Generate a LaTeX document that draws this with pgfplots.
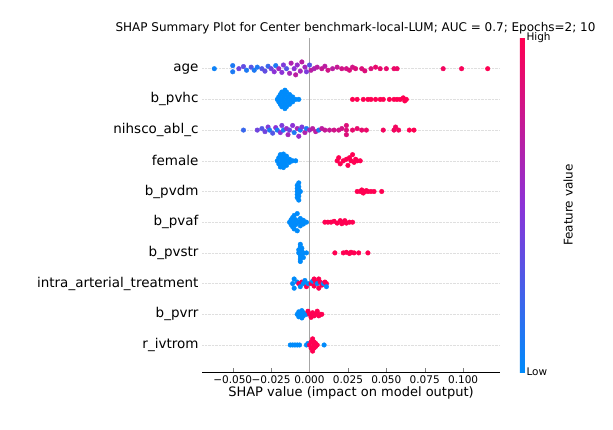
\documentclass[border=0pt]{standalone}
\usepackage{pgfplots}
\pgfplotsset{compat=1.18}
\usepackage{fontspec}
\setmainfont{DejaVu Sans}
\pgfplotstableread{
x y c
-0.062 10 0.05
-0.050 10.1 0.1
-0.050 9.9 0.1
-0.046 10 0.4
-0.043 10.07 0.35
-0.041 9.95 0.1
-0.038 10.05 0.3
-0.036 9.95 0.1
-0.034 10.05 0.1
-0.031 10 0.3
-0.029 9.92 0.35
-0.027 10.08 0.2
-0.025 10 0.4
-0.023 9.9 0.5
-0.022 10.1 0.1
-0.020 10 0.6
-0.018 9.88 0.5
-0.017 10.12 0.45
-0.015 10 0.3
-0.013 9.85 0.6
-0.012 10.18 0.65
-0.010 10 0.5
-0.009 9.8 0.7
-0.008 10.12 0.55
-0.006 9.92 0.6
-0.005 10.22 0.7
-0.003 10.05 0.6
-0.002 9.9 0.45
0.000 10.12 0.3
0.001 9.95 0.7
0.003 10 0.65
0.005 10.05 0.7
0.008 10 0.75
0.010 10.08 0.7
0.012 9.95 0.8
0.015 10 0.7
0.018 10.05 0.75
0.021 10 0.8
0.024 10 0.8
0.026 9.95 0.85
0.028 10.05 0.8
0.030 10 0.85
0.034 10 0.85
0.036 9.93 0.85
0.040 10 0.85
0.043 10.05 0.9
0.046 10 0.9
0.050 10 0.9
0.055 10 0.92
0.057 10 0.92
0.087 10 0.95
0.099 10 0.97
0.116 10 1
-0.021 9 0
-0.020 9.08 0
-0.020 8.92 0
-0.019 9.16 0
-0.019 8.84 0
-0.018 9 0
-0.018 9.24 0
-0.018 8.76 0
-0.017 9.08 0
-0.017 8.92 0
-0.016 9.16 0
-0.016 8.84 0
-0.016 9.3 0
-0.016 8.7 0
-0.015 9 0
-0.015 9.24 0
-0.015 8.76 0
-0.014 9.08 0
-0.014 8.92 0
-0.013 9.16 0
-0.013 8.84 0
-0.012 9 0
-0.011 9.08 0
-0.011 8.92 0
-0.009 9 0
-0.007 9 0
0.028 9 1
0.031 9 1
0.035 9 1
0.038 9 1
0.040 9 1
0.043 9 1
0.046 9 1
0.048 9 1
0.052 9 1
0.055 9 1
0.057 9 1
0.059 9 1
0.061 9.05 1
0.062 8.95 1
0.063 9 1
-0.043 8 0.2
-0.034 8 0.4
-0.031 8.05 0.3
-0.029 7.95 0.4
-0.027 8.1 0.45
-0.026 8 0.1
-0.024 7.9 0.3
-0.022 8.08 0.5
-0.021 8 0.1
-0.019 7.92 0.5
-0.018 8.15 0.45
-0.017 8 0.1
-0.015 8.05 0.55
-0.014 7.85 0.6
-0.013 8 0.4
-0.011 8.15 0.5
-0.010 7.92 0.1
-0.008 8.05 0.6
-0.007 7.8 0.55
-0.006 8 0.1
-0.005 8.1 0.45
-0.003 7.92 0.65
-0.002 8.05 0.1
0.000 8 0.6
0.002 8.05 0.7
0.004 7.95 0.7
0.006 8 0.1
0.008 8.05 0.7
0.010 8 0.75
0.013 8 0.75
0.016 8 0.8
0.019 8 0.8
0.021 8.05 0.8
0.024 8 0.85
0.024 8.15 0.85
0.024 7.85 0.85
0.028 8 0.9
0.031 8.05 0.9
0.034 8 0.9
0.037 8 0.92
0.048 8 0.95
0.055 8 0.95
0.056 8.1 0.95
0.058 8 0.95
0.065 8 1
0.068 8 1
-0.021 7 0
-0.020 7.1 0
-0.020 6.9 0
-0.019 7.2 0
-0.019 6.8 0
-0.018 7 0
-0.018 7.1 0
-0.018 6.9 0
-0.017 7.22 0
-0.017 6.78 0
-0.016 7 0
-0.016 7.1 0
-0.016 6.9 0
-0.015 7.15 0
-0.015 6.85 0
-0.014 7 0
-0.013 7.05 0
-0.013 6.95 0
-0.011 7 0
-0.009 7 0
0.018 7 1
0.019 7.1 1
0.020 6.9 1
0.022 7 1
0.024 7.05 1
0.025 6.85 1
0.026 7.1 1
0.027 7 1
0.028 7.2 1
0.029 6.95 1
0.030 7.05 1
0.031 7 1
0.033 7 1
-0.008 6 0
-0.008 6.1 0
-0.008 5.9 0
-0.008 6.2 0
-0.008 5.8 0
-0.007 6.05 0
-0.007 5.95 0
-0.007 6.15 0
-0.007 5.85 0
-0.007 6.28 0
-0.007 5.72 0
-0.006 6 0
0.031 6 1
0.033 6 1
0.034 6.05 1
0.035 5.95 1
0.036 6 1
0.037 6.03 1
0.038 6 1
0.040 6 1
0.042 6 1
0.047 6 1
-0.013 5 0
-0.012 5.08 0
-0.012 4.92 0
-0.011 5.15 0
-0.011 4.85 0
-0.010 5 0
-0.010 5.22 0
-0.010 4.78 0
-0.009 5.08 0
-0.009 4.92 0
-0.008 5.28 0
-0.008 4.72 0
-0.007 5 0
-0.006 5.12 0
-0.006 4.88 0
-0.005 5 0
-0.004 5.06 0
-0.004 4.94 0
-0.002 5 0
0.010 5 1
0.012 5 1
0.014 5 1
0.016 5.03 1
0.018 4.97 1
0.020 5.05 1
0.021 4.95 1
0.022 5 1
0.023 5.05 1
0.024 4.97 1
0.026 5 1
0.028 5 1
-0.007 4 0
-0.007 4.1 0
-0.006 3.9 0
-0.006 4.2 0
-0.006 3.8 0
-0.006 4.28 0
-0.006 3.72 0
-0.005 4.05 0
-0.005 3.95 0
-0.005 4.15 0
-0.004 3.85 0
-0.004 4 0
-0.002 4 0
0.0165 4 1
0.022 4 1
0.024 4.02 1
0.026 3.98 1
0.027 4.02 1
0.029 4 1
0.032 4 1
0.038 4 1
-0.011 3 0
-0.010 3.15 0
-0.010 2.85 0
-0.008 3.05 0
-0.007 3 1
-0.006 2.9 0
-0.005 3.05 1
-0.004 3 0
-0.003 3.1 0
-0.002 2.9 1
-0.001 3 0
0.001 3 1
0.002 3.08 0
0.003 2.92 1
0.004 3.05 1
0.005 3 0
0.006 3.15 1
0.006 2.85 1
0.007 3.05 1
0.008 2.95 1
0.009 3 0
0.010 3.05 1
0.011 3 1
0.011 2.9 0
0.003 3.15 1
-0.008 2 0
-0.007 2.08 0
-0.007 1.92 0
-0.006 2 0
-0.005 2.12 0
-0.005 1.88 0
-0.004 2.05 0
-0.004 1.95 0
-0.002 2 0
-0.001 2.1 1
0.000 2 1
0.001 1.9 1
0.002 2.05 1
0.003 1.95 1
0.004 2 1
0.005 2.1 1
0.006 1.95 1
0.007 2 1
0.008 2 1
-0.0125 1 0
-0.011 1 0
-0.0095 1 0
-0.008 1 0
-0.0065 1 0
-0.002 1 0
-0.001 1.05 0
0.000 1 1
0.001 1.1 1
0.001 0.9 1
0.002 1.2 1
0.002 0.8 1
0.003 1 1
0.003 1.1 1
0.003 0.9 1
0.004 1.05 1
0.004 0.95 1
0.005 1 1
0.0095 1 0
}\shap
\pgfplotsset{
  colormap={shap}{rgb255=(0,139,251) rgb255=(140,50,215) rgb255=(255,0,82)}
}
\begin{document}
\begin{tikzpicture}[x=1pt,y=1pt]
\useasboundingbox (0,0) rectangle (613,429);
\fill[white] (0,0) rectangle (613,429);
\begin{axis}[at={(202pt,57pt)}, anchor=south west,
  scale only axis, width=298pt, height=334pt,
  xmin=-0.070, xmax=0.124, ymin=0.12, ymax=11,
  axis x line*=bottom, axis y line*=left,
  y axis line style={draw=none},
  ytick={1,...,10},
  yticklabels={r\_ivtrom,b\_pvrr,intra\_arterial\_treatment,b\_pvstr,b\_pvaf,b\_pvdm,female,nihsco\_abl\_c,b\_pvhc,age},
  ytick style={draw=none},
  yticklabel style={font=\fontsize{13.5}{15}\selectfont},
  ymajorgrids, grid style={densely dotted, gray!25},
  xtick={-0.05,-0.025,0,0.025,0.05,0.075,0.1},
  xticklabels={−0.050,−0.025,0.000,0.025,0.050,0.075,0.100},
  xticklabel style={font=\fontsize{10.5}{12}\selectfont},
  xlabel={SHAP value (impact on model output)},
  xlabel style={font=\fontsize{13}{15}\selectfont, yshift=4pt},
  point meta min=0, point meta max=1,
  colormap name=shap,
  colorbar,
  colorbar style={at={(1.067,1)}, anchor=north west, width=5pt,
    ytick={0,1}, yticklabels={Low,High}, ytick style={draw=none},
    yticklabel style={font=\fontsize{10.5}{12}\selectfont, xshift=-2pt},
    axis line style={draw=none},
    ylabel={Feature value}, ylabel style={font=\fontsize{12}{14}\selectfont, yshift=-6pt}},
]
\addplot[gray!70, line width=1.2pt, forget plot] coordinates {(0,0.12) (0,11)};
\addplot[scatter, only marks, mark=*, mark size=2.3pt,
  scatter/use mapped color={draw=mapped color, fill=mapped color},
  point meta=explicit] table[x=x,y=y,meta=c] {\shap};
\end{axis}
\node[anchor=base west, font=\fontsize{12}{14}\selectfont] at (112pt,397pt) {SHAP Summary Plot for Center benchmark-local-LUM; AUC = 0.7; Epochs=2; 10};
\end{tikzpicture}
\end{document}
